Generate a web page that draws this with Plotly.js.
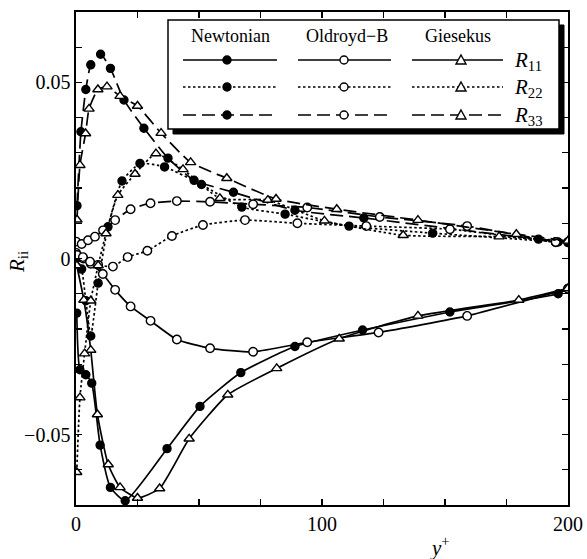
<!DOCTYPE html>
<html>
<head>
<meta charset="utf-8">
<script src="https://cdn.plot.ly/plotly-3.0.1.min.js"></script>
<style>
  html, body { margin: 0; padding: 0; background: #fff; }
  #chart { width: 587px; height: 559px; }
</style>
</head>
<body>
<div id="chart"></div>
<script>
// Wall-normal profiles R_ii(y+) for three fluids.
// Newtonian (filled circles)
const newtR11_y = [0.3, 1.6, 4, 6.4, 9.8, 14, 20, 37, 50.4, 67, 89, 116.5, 152, 196, 200];
const newtR11_v = [-0.0155, -0.0316, -0.033, -0.0354, -0.053, -0.065, -0.0688, -0.054, -0.042, -0.0324, -0.025, -0.0203, -0.0152, -0.010, -0.0085];
const newtR22_y = [0.3, 2.3, 4, 6, 9, 13, 18.7, 26, 36, 51, 67.4, 85, 111, 145, 196, 200];
const newtR22_v = [0.0, -0.003, -0.012, -0.022, -0.007, 0.009, 0.022, 0.027, 0.026, 0.021, 0.0146, 0.0126, 0.0092, 0.0072, 0.0047, 0.0045];
const newtR33_y = [0.4, 2, 4, 6, 10, 14, 19.5, 27.6, 37.4, 48, 64, 89, 117, 188, 200];
const newtR33_v = [0.015, 0.036, 0.048, 0.055, 0.058, 0.054, 0.045, 0.037, 0.0285, 0.0222, 0.0188, 0.0137, 0.0115, 0.0055, 0.0048];

// Oldroyd-B (open circles)
const oldbR11_y = [0, 3, 6, 10.9, 15.9, 22.2, 30.3, 41, 54.5, 72, 94, 123, 159, 200];
const oldbR11_v = [0.0016, 0.0, -0.0015, -0.0044, -0.0089, -0.0136, -0.0177, -0.023, -0.0255, -0.0265, -0.0238, -0.021, -0.0163, -0.0086];
const oldbR22_y = [0.4, 2.8, 5.7, 9, 15, 21, 29, 39, 51.6, 68.7, 90, 118, 152, 195];
const oldbR22_v = [0.001, 0.0004, -0.0009, -0.0018, -0.0023, 0.0004, 0.0022, 0.0064, 0.0095, 0.0109, 0.010, 0.0092, 0.0083, 0.0046];
const oldbR33_y = [0, 2.3, 4.9, 7.7, 11, 15.9, 22.2, 30.3, 41, 54.5, 72, 94, 123.5, 159, 195];
const oldbR33_v = [0.0048, 0.0041, 0.0052, 0.0062, 0.008, 0.0109, 0.014, 0.0157, 0.0163, 0.0161, 0.0154, 0.0145, 0.0118, 0.0092, 0.0047];

// Giesekus (open triangles)
const giesR11_y = [0.3, 3.2, 6, 8.7, 13.1, 17.9, 25, 34, 46, 61.7, 81.6, 107, 139, 180, 200];
const giesR11_v = [-0.002, -0.0118, -0.026, -0.0443, -0.0585, -0.065, -0.068, -0.0653, -0.0512, -0.0387, -0.0312, -0.0228, -0.0163, -0.0118, -0.0085];
const giesR22_y = [0.3, 1.6, 3.5, 6, 9, 12.2, 17, 24, 32.5, 43.5, 58.5, 78, 101, 133, 172, 200];
const giesR22_v = [-0.0607, -0.0395, -0.027, -0.012, -0.002, 0.0071, 0.018, 0.024, 0.0298, 0.0253, 0.0171, 0.0166, 0.0107, 0.0066, 0.0062, 0.005];
const giesR33_y = [0.4, 1.6, 3.9, 5.3, 8.9, 12.6, 17.9, 25, 34.6, 46.6, 61.3, 81.3, 106, 139, 179, 200];
const giesR33_v = [0.011, 0.0265, 0.0355, 0.0425, 0.048, 0.0488, 0.0461, 0.0433, 0.0356, 0.0273, 0.0228, 0.0169, 0.014, 0.0109, 0.0069, 0.005];

// Axis ticks (labelled majors; unlabelled minors every 25 and 0.01)
const xTickVals = [0, 100, 200];
const xTickText = ['0', '100', '200'];
const yTickVals = [-0.05, 0, 0.05];
const yTickText = ['\u22120.05', '0', '0.05'];

// Legend texts
const fluidNames = ['Newtonian', 'Oldroyd\u2212B', 'Giesekus'];
const compLabels = ['<i>R</i><sub>11</sub>', '<i>R</i><sub>22</sub>', '<i>R</i><sub>33</sub>'];

const SERIF = '"Liberation Serif", serif';
const DASHES = ['solid', '2.5px,2.5px', '13px,6px'];
const MARKERS = [
  { symbol: 'circle', size: 8, color: '#000', line: { color: '#000', width: 1.4 } },
  { symbol: 'circle', size: 8.5, color: '#fff', line: { color: '#000', width: 1.4 } },
  { symbol: 'triangle-up', size: 9, color: '#fff', line: { color: '#000', width: 1.4 } }
];

const series = [
  [[newtR11_y, newtR11_v], [newtR22_y, newtR22_v], [newtR33_y, newtR33_v]],
  [[oldbR11_y, oldbR11_v], [oldbR22_y, oldbR22_v], [oldbR33_y, oldbR33_v]],
  [[giesR11_y, giesR11_v], [giesR22_y, giesR22_v], [giesR33_y, giesR33_v]]
];

const traces = [];
series.forEach((fluid, f) => {
  fluid.forEach((comp, c) => {
    traces.push({
      type: 'scatter',
      mode: 'lines+markers',
      x: comp[0],
      y: comp[1],
      name: fluidNames[f] + ' R' + (c + 1) + (c + 1),
      line: { color: '#000', width: 1.7, dash: DASHES[c], shape: 'spline', smoothing: 0.5 },
      marker: MARKERS[f],
      cliponaxis: true,
      hoverinfo: 'x+y+name'
    });
  });
});

// Plot-area geometry (pixels) used to place the custom legend
const M = { l: 76, r: 19, t: 12, b: 54 };
const W = 587, H = 559;
const pw = W - M.l - M.r, ph = H - M.t - M.b;
const fx = px => (px - M.l) / pw;
const fy = py => (H - M.b - py) / ph;

const shapes = [];
const annotations = [];

// legend frame with drop shadow
shapes.push({ type: 'rect', xref: 'paper', yref: 'paper', layer: 'above',
  x0: fx(173), x1: fx(564), y0: fy(134), y1: fy(25),
  fillcolor: '#000', line: { color: '#000', width: 1 } });
shapes.push({ type: 'rect', xref: 'paper', yref: 'paper', layer: 'above',
  x0: fx(168), x1: fx(559), y0: fy(129), y1: fy(20),
  fillcolor: '#fff', line: { color: '#000', width: 1.5 } });

const colSpan = [[183, 277, 227], [298, 391, 344], [412, 503, 461]];
const headerX = [230, 347, 458];
const rowY = [60, 87, 115];

fluidNames.forEach((name, f) => {
  annotations.push({ xref: 'paper', yref: 'paper', x: fx(headerX[f]), y: fy(36),
    text: name, showarrow: false, xanchor: 'center', yanchor: 'middle',
    font: { family: SERIF, size: 18, color: '#000' } });
  rowY.forEach((ry, c) => {
    const [a, b, m] = colSpan[f];
    shapes.push({ type: 'line', xref: 'paper', yref: 'paper', layer: 'above',
      x0: fx(a), x1: fx(b), y0: fy(ry), y1: fy(ry),
      line: { color: '#000', width: 1.6, dash: DASHES[c] } });
    if (f < 2) {
      const r = 4;
      shapes.push({ type: 'circle', xref: 'paper', yref: 'paper', layer: 'above',
        x0: fx(m - r), x1: fx(m + r), y0: fy(ry + r), y1: fy(ry - r),
        fillcolor: f === 0 ? '#000' : '#fff', line: { color: '#000', width: 1.4 } });
    } else {
      const p = `M ${fx(m)},${fy(ry - 5)} L ${fx(m + 5)},${fy(ry + 4)} L ${fx(m - 5)},${fy(ry + 4)} Z`;
      shapes.push({ type: 'path', xref: 'paper', yref: 'paper', layer: 'above', path: p,
        fillcolor: '#fff', line: { color: '#000', width: 1.4 } });
    }
  });
});

compLabels.forEach((lab, c) => {
  annotations.push({ xref: 'paper', yref: 'paper', x: fx(512), y: fy(rowY[c] + 1),
    text: lab, showarrow: false, xanchor: 'left', yanchor: 'middle',
    font: { family: SERIF, size: 21, color: '#000' } });
});

// axis titles
annotations.push({ xref: 'paper', yref: 'paper', x: fx(440), y: fy(546),
  text: '<i>y</i><sup>+</sup>', showarrow: false, xanchor: 'center', yanchor: 'middle',
  font: { family: SERIF, size: 21, color: '#000' } });
annotations.push({ xref: 'paper', yref: 'paper', x: fx(18), y: fy(262),
  text: '<i>R</i><sub>ii</sub>', showarrow: false, xanchor: 'center', yanchor: 'middle',
  textangle: -90, font: { family: SERIF, size: 21, color: '#000' } });

const axisCommon = {
  ticks: 'inside', ticklen: 6, tickwidth: 1.2, tickcolor: '#000',
  showline: true, linecolor: '#000', linewidth: 1.6, mirror: 'allticks',
  showgrid: false, zeroline: false, tickmode: 'array',
  tickfont: { family: SERIF, size: 20, color: '#000' }
};

const layout = {
  width: W, height: H,
  margin: M,
  paper_bgcolor: '#fff', plot_bgcolor: '#fff',
  showlegend: false,
  font: { family: SERIF, color: '#000' },
  xaxis: Object.assign({}, axisCommon, { range: [0, 200],
    tickvals: xTickVals, ticktext: xTickText,
    minor: { tick0: 0, dtick: 25, ticks: 'inside', ticklen: 6, tickwidth: 1.2, tickcolor: '#000', showgrid: false } }),
  yaxis: Object.assign({}, axisCommon, { range: [-0.07, 0.07],
    tickvals: yTickVals, ticktext: yTickText,
    minor: { tick0: 0, dtick: 0.01, ticks: 'inside', ticklen: 6, tickwidth: 1.2, tickcolor: '#000', showgrid: false } }),
  shapes: shapes,
  annotations: annotations
};

Plotly.newPlot('chart', traces, layout, { staticPlot: true, displayModeBar: false });
</script>
</body>
</html>
